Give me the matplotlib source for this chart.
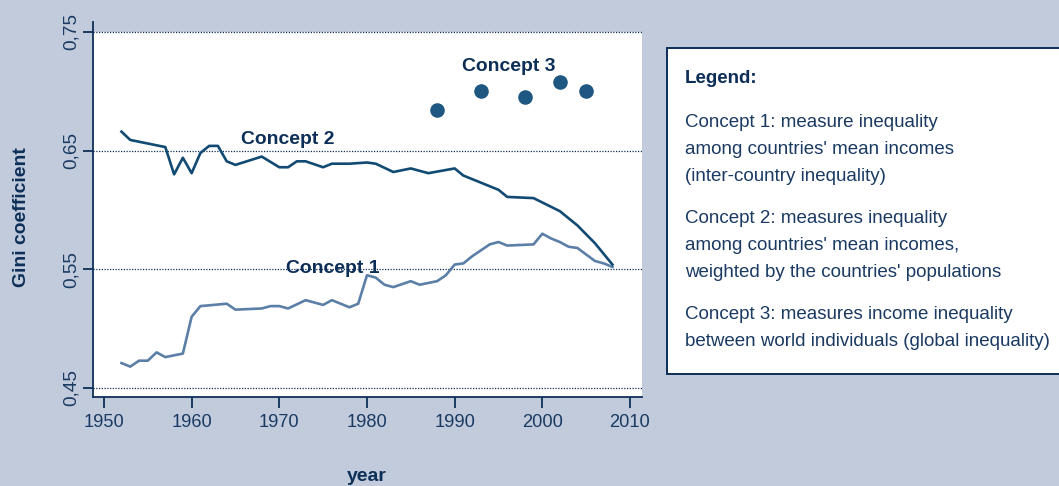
import matplotlib
matplotlib.use("Agg")
import matplotlib.pyplot as plt
from matplotlib import font_manager
from matplotlib.patches import Rectangle

# Concept 2: population-weighted inequality between countries
years2 = [1952, 1953, 1957, 1958, 1959, 1960, 1961, 1962, 1963, 1964,
          1965, 1968, 1970, 1971, 1972, 1973, 1975, 1976, 1978, 1980,
          1981, 1983, 1985, 1987, 1990, 1991, 1994, 1995, 1996, 1999,
          2002, 2004, 2006, 2008]
gini2 = [0.666, 0.659, 0.653, 0.630, 0.644, 0.631, 0.648, 0.654, 0.654, 0.641,
         0.638, 0.645, 0.636, 0.636, 0.641, 0.641, 0.636, 0.639, 0.639, 0.640,
         0.639, 0.632, 0.635, 0.631, 0.635, 0.629, 0.620, 0.617, 0.611, 0.610,
         0.599, 0.587, 0.572, 0.554]

# Concept 1: inter-country inequality
years1 = [1952, 1953, 1954, 1955, 1956, 1957, 1959, 1960, 1961, 1964,
          1965, 1968, 1969, 1970, 1971, 1973, 1975, 1976, 1978, 1979,
          1980, 1981, 1982, 1983, 1985, 1986, 1988, 1989, 1990, 1991,
          1992, 1993, 1994, 1995, 1996, 1999, 2000, 2001, 2002, 2003,
          2004, 2006, 2007, 2008]
gini1 = [0.471, 0.468, 0.473, 0.473, 0.480, 0.476, 0.479, 0.510, 0.519, 0.521,
         0.516, 0.517, 0.519, 0.519, 0.517, 0.524, 0.520, 0.524, 0.518, 0.521,
         0.545, 0.543, 0.537, 0.535, 0.540, 0.537, 0.540, 0.545, 0.554, 0.555,
         0.561, 0.566, 0.571, 0.573, 0.570, 0.571, 0.580, 0.576, 0.573, 0.569,
         0.568, 0.557, 0.555, 0.552]

# Concept 3: global inequality between individuals
years3 = [1988, 1993, 1998, 2002, 2005]
gini3 = [0.684, 0.700, 0.695, 0.708, 0.700]

xticks = [1950, 1960, 1970, 1980, 1990, 2000, 2010]
yticks = [0.45, 0.55, 0.65, 0.75]
ytick_labels = ["0,45", "0,55", "0,65", "0,75"]

legend_title = "Legend:"
legend_blocks = [
    ["Concept 1: measure inequality",
     "among countries' mean incomes",
     "(inter-country inequality)"],
    ["Concept 2: measures inequality",
     "among countries' mean incomes,",
     "weighted by the countries' populations"],
    ["Concept 3: measures income inequality",
     "between world individuals (global inequality)"],
]

BG = "#c1cbdc"
NAVY = "#0d2f57"
TICK = "#1a3a62"
DARK = "#114a72"
LIGHT = "#5b7fa6"
DOT = "#1e5782"

names = {f.name for f in font_manager.fontManager.ttflist}
if "Liberation Sans Narrow" in names:
    FONT, k = "Liberation Sans Narrow", 1.0
else:
    FONT, k = "Liberation Sans", 0.82
plt.rcParams["font.family"] = [FONT, "DejaVu Sans"]

W, H = 1059, 486
fig = plt.figure(figsize=(W / 100, H / 100), dpi=100, facecolor=BG)
ax = fig.add_axes([93 / W, 1 - 397 / H, (642 - 93) / W, (397 - 22) / H])
ax.set_facecolor("none")

x0, x1 = 1948.75, 2011.37
y0, y1 = 0.4424, 0.7584
ax.set_xlim(x0, x1)
ax.set_ylim(y0, y1)

# white plotting area only up to the top grid line
ax.add_patch(Rectangle((x0, y0), x1 - x0, 0.75 - y0, facecolor="white",
                       edgecolor="none", zorder=0))
for y in yticks:
    ax.axhline(y, color=NAVY, lw=0.9, ls=(0, (1, 1.2)), zorder=1)

ax.plot(years1, gini1, color=LIGHT, lw=1.9, zorder=3)
ax.plot(years2, gini2, color=DARK, lw=1.9, zorder=3)
ax.plot(years3, gini3, "o", color=DOT, ms=10.5, mec="none", zorder=3)

bold = dict(fontsize=17 * k, fontweight="bold", color=NAVY, ha="center",
            va="baseline", zorder=4)
ax.text(1971.0, 0.656, "Concept 2", **bold)
ax.text(1996.2, 0.7167, "Concept 3", **bold)
ax.text(1976.05, 0.5472, "Concept 1", **bold)

for side in ["top", "right"]:
    ax.spines[side].set_visible(False)
for side in ["left", "bottom"]:
    ax.spines[side].set_color(NAVY)
    ax.spines[side].set_linewidth(1.3)

ax.set_xticks(xticks)
ax.set_yticks(yticks)
ax.set_yticklabels(ytick_labels, rotation=90, va="center")
ax.tick_params(axis="x", length=8, width=1.3, color=NAVY, pad=4,
               labelsize=16 * k, labelcolor=TICK)
ax.tick_params(axis="y", length=7.2, width=1.3, color=NAVY, pad=2.5,
               labelsize=16.7 * k, labelcolor=TICK)

fig.text(367 / W, 1 - 481 / H, "year", fontsize=17 * k, fontweight="bold",
         color=NAVY, ha="center", va="baseline")
fig.text(22 / W, 1 - 217.5 / H, "Gini coefficient", fontsize=17 * k,
         fontweight="bold", color=NAVY, rotation=90, ha="center", va="center")

# legend box, running off the right edge
fig.add_artist(Rectangle((667 / W, 1 - 374 / H), (1080 - 667) / W, (374 - 48) / H,
                         transform=fig.transFigure, facecolor="white",
                         edgecolor=NAVY, lw=1.4, clip_on=False))
fig.text(685 / W, 1 - 83.3 / H, legend_title, fontsize=16.5 * k,
         fontweight="bold", color=NAVY, va="baseline")
base = 127.3
for block in legend_blocks:
    for i, line in enumerate(block):
        fig.text(685 / W, 1 - (base + 27 * i) / H, line, fontsize=16.5 * k,
                 color=TICK, va="baseline")
    base += 27 * len(block) + 14.7

fig.savefig("out.png", dpi=100, facecolor=BG)
